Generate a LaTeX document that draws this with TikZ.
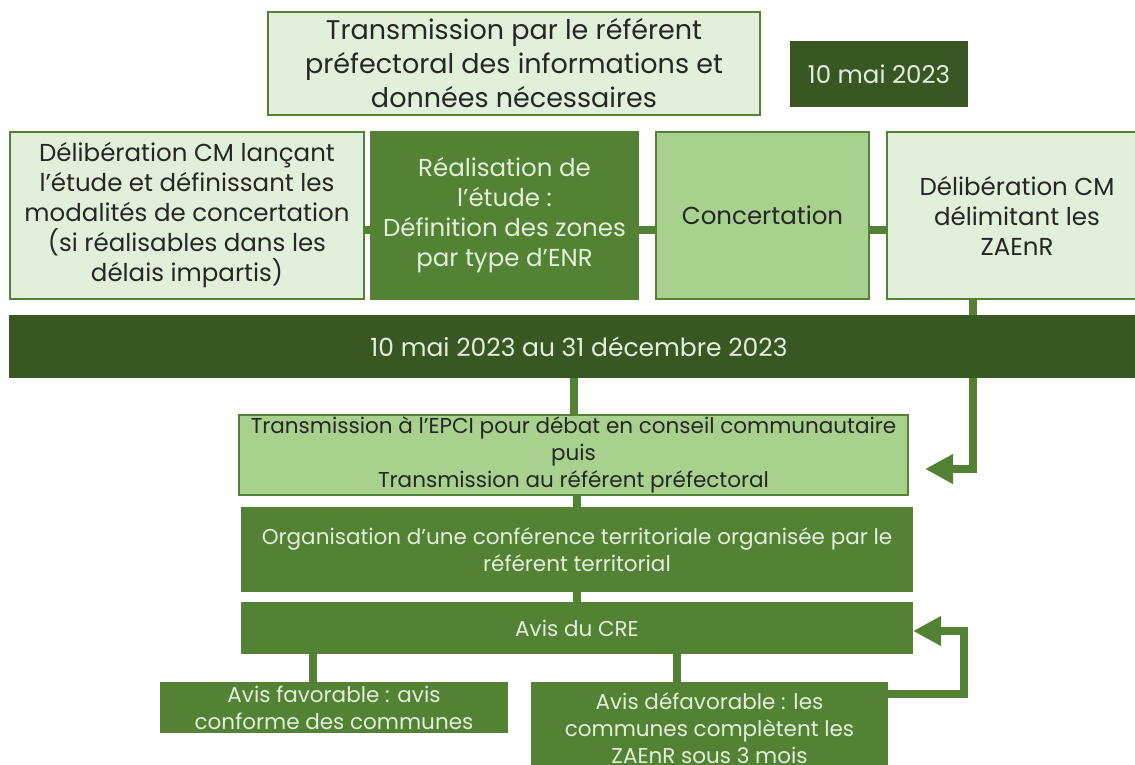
\documentclass[tikz,border=0pt]{standalone}
\usepackage{fontspec}
\setmainfont{Poppins}
\usetikzlibrary{arrows.meta,backgrounds}
\definecolor{gl}{HTML}{E2EFDA}
\definecolor{gm}{HTML}{A9D18E}
\definecolor{gg}{HTML}{548235}
\definecolor{gd}{HTML}{385723}
\definecolor{tx}{HTML}{262626}
\begin{document}
\begin{tikzpicture}[x=1pt,y=-1pt,
 box/.style={rectangle, inner sep=0pt, align=center, line width=1.5pt},
 lightbox/.style={box, fill=gl, draw=gg, text=tx},
 midbox/.style={box, fill=gm, draw=gg, text=tx},
 greenbox/.style={box, fill=gg, draw=gg, text=gl},
 darkbox/.style={box, fill=gd, draw=gd, text=gl},
 conn/.style={draw=gg, line width=8pt},
 arr/.style={conn, -{Triangle[length=28pt,width=28pt]}},
 big/.style={font=\fontsize{27}{34}\selectfont},
 mid/.style={font=\fontsize{24.5}{30}\selectfont},
 sml/.style={font=\fontsize{21.5}{27}\selectfont},
]
\clip (0,0) rectangle (1135,764);

\node[lightbox, big, minimum width=492pt, minimum height=103pt] (top) at (514,63.5)
  {Transmission par le référent\\préfectoral des informations et\\données nécessaires};
\node[darkbox, mid, minimum width=176pt, minimum height=64pt] (date) at (879,74) {10 mai 2023};

\node[lightbox, mid, minimum width=354pt, minimum height=167pt] (b1) at (187,215.5)
  {Délibération CM lançant\\l’étude et définissant les\\modalités de concertation\\(si réalisables dans les\\délais impartis)};
\node[greenbox, mid, minimum width=267pt, minimum height=167pt] (b2) at (504.5,215.5)
  {Réalisation de\\l’étude :\\Définition des zones\\par type d’ENR};
\node[midbox, mid, minimum width=213pt, minimum height=167pt] (b3) at (762.5,215.5) {Concertation};
\node[lightbox, mid, minimum width=260pt, minimum height=167pt] (b4) at (1017,215.5)
  {Délibération CM\\délimitant les\\ZAEnR};

\node[darkbox, mid, font=\fontsize{25}{30}\selectfont, minimum width=1138pt, minimum height=62pt] (band) at (579,346.5)
  {10 mai 2023 au 31 décembre 2023};

\node[midbox, sml, minimum width=669pt, minimum height=80pt] (epci) at (573.5,455)
  {Transmission à l’EPCI pour débat en conseil communautaire\\puis\\Transmission au référent préfectoral};
\node[greenbox, sml, minimum width=670pt, minimum height=83pt] (org) at (577,549.5)
  {Organisation d’une conférence territoriale organisée par le\\référent territorial};
\node[greenbox, sml, minimum width=670pt, minimum height=50pt] (cre) at (577,628) {Avis du CRE};
\node[greenbox, sml, minimum width=346pt, minimum height=49pt] (fav) at (334,707.5)
  {Avis favorable : avis\\conforme des communes};
\node[greenbox, sml, minimum width=355pt, minimum height=90pt] (def) at (709.5,728)
  {Avis défavorable : les\\communes complètent les\\ZAEnR sous 3 mois};

\coordinate (rx) at (973,0);
\coordinate (e1) at (925,469);
\coordinate (lx) at (313,0);
\coordinate (mx) at (677,0);
\coordinate (fx) at (964,0);
\coordinate (e2) at (913,631);

\begin{scope}[on background layer]
\fill[white] (0,0) rectangle (1135,764);
\draw[conn] ([yshift=-14.5pt]b1.east) -- ([yshift=-14.5pt]b2.west);
\draw[conn] ([yshift=-14.5pt]b2.east) -- ([yshift=-14.5pt]b3.west);
\draw[conn] ([yshift=-14.5pt]b3.east) -- ([yshift=-14.5pt]b4.west);
\draw[arr] (b4.south -| rx) |- (e1);
\draw[conn] (band.south -| epci.north) -- (epci.north);
\draw[conn] (epci.south -| org.north) -- (org.north);
\draw[conn] (org.south) -- (cre.north);
\draw[conn] (cre.south -| lx) -- (fav.north -| lx);
\draw[conn] (cre.south -| mx) -- (def.north -| mx);
\draw[arr] ([yshift=34pt]def.east) -- ([yshift=34pt]def.east -| fx) |- (e2);
\end{scope}
\end{tikzpicture}
\end{document}
